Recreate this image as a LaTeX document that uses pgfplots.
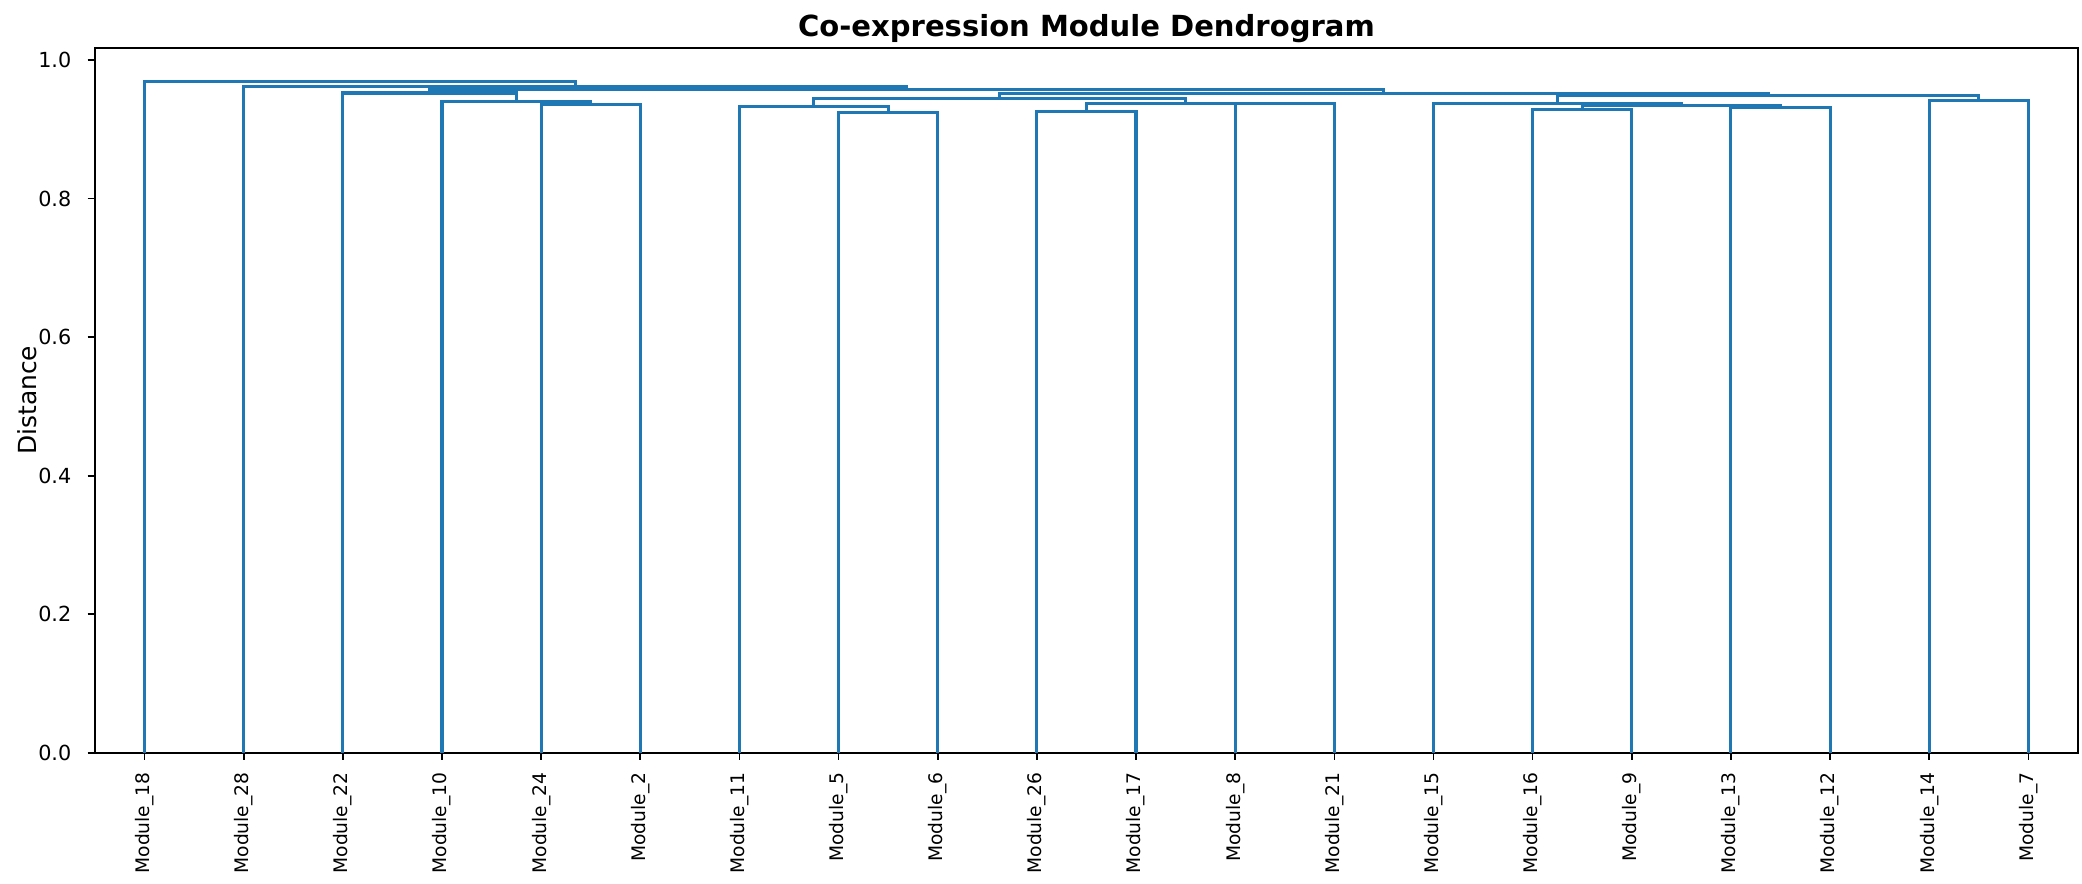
\documentclass[border=0pt]{standalone}
\usepackage{fontspec}
\setmainfont{DejaVu Sans}
\usepackage{pgfplots}
\pgfplotsset{compat=1.18}
\definecolor{cz}{HTML}{1F77B4}
\tikzset{dl/.style={draw=cz, solid, line width=1.5pt, line join=miter, mark=none}}
\begin{document}
\begin{tikzpicture}
\useasboundingbox (-0.633in,-0.875in) rectangle (13.247in,5.018in);
\begin{axis}[
  at={(0,0)}, anchor=south west,
  width=13.22in, height=4.698in, scale only axis,
  xmin=0, xmax=200, ymin=0, ymax=1.0175,
  axis line style={line width=0.8pt, black},
  tick align=outside, major tick length=3.5pt,
  tick style={line width=0.8pt, black},
  tick pos=left,
  xtick={5,15,25,35,45,55,65,75,85,95,105,115,125,135,145,155,165,175,185,195},
  xticklabels={Module\_18,Module\_28,Module\_22,Module\_10,Module\_24,Module\_2,Module\_11,Module\_5,Module\_6,Module\_26,Module\_17,Module\_8,Module\_21,Module\_15,Module\_16,Module\_9,Module\_13,Module\_12,Module\_14,Module\_7},
  xticklabel style={rotate=90, anchor=east, inner sep=0pt, xshift=-5.8pt, font=\fontsize{9}{10}\selectfont},
  ytick={0,0.2,0.4,0.6,0.8,1.0},
  /pgf/number format/assume math mode=true,
  yticklabel style={anchor=east, inner sep=0pt, xshift=-7.7pt, font=\fontsize{10}{12}\selectfont,
    /pgf/number format/fixed, /pgf/number format/fixed zerofill, /pgf/number format/precision=1},
  ylabel={Distance},
  ylabel style={font=\fontsize{12}{14}\selectfont, at={(axis description cs:-0.0343,0.5)}, anchor=center},
  title={Co-expression Module Dendrogram},
  title style={font=\fontsize{14}{17}\selectfont\bfseries, at={(axis description cs:0.5,1)}, anchor=base, yshift=-0.6pt},
]
% A (24,2)
\addplot[dl] coordinates {(45,0)(45,0.936)(55,0.936)(55,0)};
% B (10,A)
\addplot[dl] coordinates {(35,0)(35,0.940)(50,0.940)(50,0.936)};
% C (22,B)
\addplot[dl] coordinates {(25,0)(25,0.9525)(42.5,0.9525)(42.5,0.940)};
% D (5,6)
\addplot[dl] coordinates {(75,0)(75,0.925)(85,0.925)(85,0)};
% E (11,D)
\addplot[dl] coordinates {(65,0)(65,0.933)(80,0.933)(80,0.925)};
% F (26,17)
\addplot[dl] coordinates {(95,0)(95,0.926)(105,0.926)(105,0)};
% G (8,21)
\addplot[dl] coordinates {(115,0)(115,0.9375)(125,0.9375)(125,0)};
% H (F,G)
\addplot[dl] coordinates {(100,0.926)(100,0.938)(120,0.938)(120,0.9375)};
% I (E,H)
\addplot[dl] coordinates {(72.5,0.933)(72.5,0.944)(110,0.944)(110,0.938)};
% J (16,9)
\addplot[dl] coordinates {(145,0)(145,0.929)(155,0.929)(155,0)};
% K (13,12)
\addplot[dl] coordinates {(165,0)(165,0.932)(175,0.932)(175,0)};
% L (J,K)
\addplot[dl] coordinates {(150,0.929)(150,0.935)(170,0.935)(170,0.932)};
% M (15,L)
\addplot[dl] coordinates {(135,0)(135,0.937)(160,0.937)(160,0.935)};
% N (14,7)
\addplot[dl] coordinates {(185,0)(185,0.942)(195,0.942)(195,0)};
% O (M,N)
\addplot[dl] coordinates {(147.5,0.937)(147.5,0.949)(190,0.949)(190,0.942)};
% P (I,O)
\addplot[dl] coordinates {(91.25,0.944)(91.25,0.952)(168.75,0.952)(168.75,0.949)};
% Q (C,P)
\addplot[dl] coordinates {(33.75,0.9525)(33.75,0.957)(130,0.957)(130,0.952)};
% R (28,Q)
\addplot[dl] coordinates {(15,0)(15,0.9615)(81.875,0.9615)(81.875,0.957)};
% S (18,R)
\addplot[dl] coordinates {(5,0)(5,0.969)(48.4375,0.969)(48.4375,0.9615)};
\end{axis}
\end{tikzpicture}
\end{document}
